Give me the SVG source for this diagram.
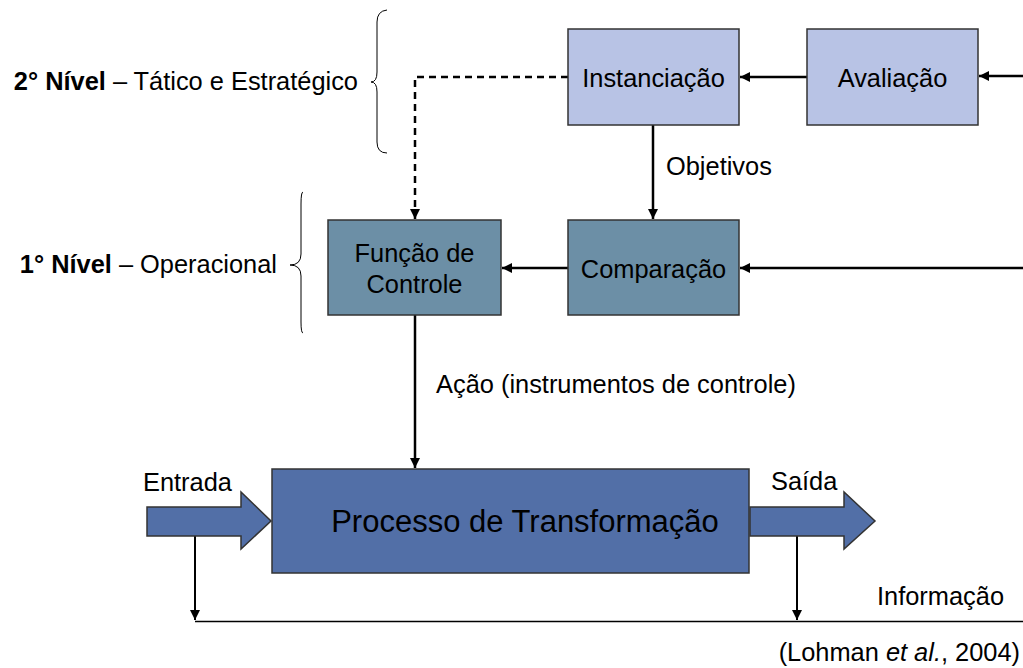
<svg xmlns="http://www.w3.org/2000/svg" width="1023" height="668" viewBox="0 0 1023 668">
<defs>
<style>
text{font-family:"Liberation Sans",Arial,sans-serif;fill:#000}
.lbl{font-size:25.4px}
.big{font-size:31px}
.b{font-weight:bold}
.light{fill:#B8C3E5;stroke:#333;stroke-width:1.5}
.dark{fill:#6C8FA6;stroke:#333;stroke-width:1.5}
.proc{fill:#526FA7;stroke:#333;stroke-width:1.5}
.con{fill:none;stroke:#000;stroke-width:2.5}
.thin{fill:none;stroke:#000;stroke-width:2}
.brace{fill:none;stroke:#000;stroke-width:1}
</style>
<marker id="ah" viewBox="0 0 10 10" refX="10" refY="5" markerWidth="4" markerHeight="4" orient="auto" markerUnits="strokeWidth">
<path d="M0,0 L10,5 L0,10 z" fill="#000"/>
</marker>
<marker id="ah2" viewBox="0 0 10 10" refX="10" refY="5" markerWidth="5" markerHeight="5" orient="auto" markerUnits="strokeWidth">
<path d="M0,0 L10,5 L0,10 z" fill="#000"/>
</marker>
</defs>
<rect width="1023" height="668" fill="#fff"/>

<g id="levels">
<text x="358" y="90" text-anchor="end" class="lbl"><tspan class="b">2° Nível</tspan> – Tático e Estratégico</text>
<path class="brace" d="M387,10 Q377,11 377,22 L377,72 Q377,82 371,82 Q377,82 377,92 L377,142 Q377,153 387,153"/>
<text x="277" y="273" text-anchor="end" class="lbl"><tspan class="b">1° Nível</tspan> – Operacional</text>
<path class="brace" d="M303,192 Q301,192 301,204 L301,254 Q301,265 290,265 Q301,265 301,276 L301,322 Q301,333 303,333"/>
</g>

<g id="connectors">
<path class="con" d="M1023,76 L979,76" marker-end="url(#ah)"/>
<path class="con" d="M807,77 L740,77" marker-end="url(#ah)"/>
<path class="con" d="M568,77 L415,77 L415,219" stroke-dasharray="7,5" marker-end="url(#ah)"/>
<path class="con" d="M653,125 L653,219" marker-end="url(#ah)"/>
<path class="con" d="M1023,268 L740,268" marker-end="url(#ah)"/>
<path class="con" d="M568,268 L502,268" marker-end="url(#ah)"/>
<path class="con" d="M415,315 L415,468" marker-end="url(#ah)"/>
<path class="thin" d="M195,536 L195,620" marker-end="url(#ah2)"/>
<path class="thin" d="M797,536 L797,620" marker-end="url(#ah2)"/>
<path fill="none" stroke="#000" stroke-width="1.5" d="M195,621.5 L1023,621.5"/>
</g>

<g id="instanciacao">
<rect class="light" x="568" y="29" width="171" height="96"/>
<text x="653.5" y="87" text-anchor="middle" class="lbl">Instanciação</text>
</g>
<g id="avaliacao">
<rect class="light" x="807" y="29" width="171" height="96"/>
<text x="892.5" y="87" text-anchor="middle" class="lbl">Avaliação</text>
</g>
<g id="comparacao">
<rect class="dark" x="568" y="220" width="171" height="95"/>
<text x="653.5" y="278" text-anchor="middle" class="lbl">Comparação</text>
</g>
<g id="funcao">
<rect class="dark" x="328" y="220" width="173" height="95"/>
<text x="414.5" y="262" text-anchor="middle" class="lbl">Função de</text>
<text x="414.5" y="293" text-anchor="middle" class="lbl">Controle</text>
</g>
<g id="processo">
<rect class="proc" x="272" y="469" width="477" height="104"/>
<text x="525" y="532" text-anchor="middle" class="big">Processo de Transformação</text>
</g>
<g id="entrada">
<path class="proc" stroke-width="1" d="M147,507 L241,507 L241,492 L271,521 L241,549 L241,536 L147,536 z"/>
<text x="143" y="491" class="lbl">Entrada</text>
</g>
<g id="saida">
<path class="proc" stroke-width="1" d="M750,507 L844,507 L844,492 L875,521 L844,549 L844,536 L750,536 z"/>
<text x="771" y="490" class="lbl">Saída</text>
</g>

<g id="labels">
<text x="666" y="175" class="lbl">Objetivos</text>
<text x="436" y="393" class="lbl">Ação (instrumentos de controle)</text>
<text x="877" y="605" class="lbl">Informação</text>
<text x="1020" y="661" text-anchor="end" class="lbl">(Lohman <tspan font-style="italic">et al.</tspan>, 2004)</text>
</g>
</svg>
